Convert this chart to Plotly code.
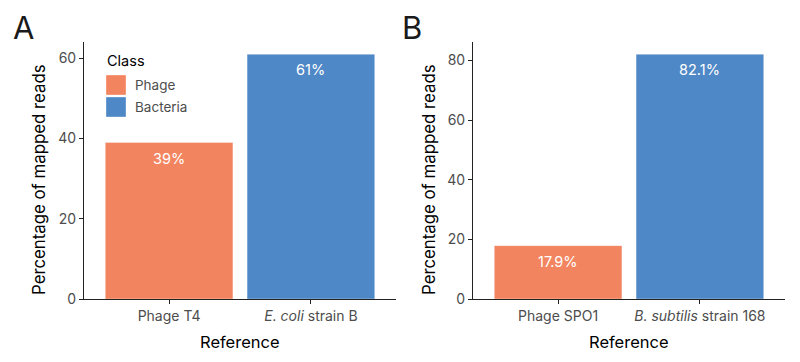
import plotly.graph_objects as go

# Data
cats_a = ["Phage T4", "<i>E. coli</i> strain B"]
vals_a = [39.0, 61.0]
labels_a = ["39%", "61%"]
cats_b = ["Phage SPO1", "<i>B. subtilis</i> strain 168"]
vals_b = [17.9, 82.1]
labels_b = ["17.9%", "82.1%"]
classes = ["Phage", "Bacteria"]
class_colors = {"Phage": "#F2845F", "Bacteria": "#4F88C6"}
ticks_a = [0, 20, 40, 60]
ticks_b = [0, 20, 40, 60, 80]

FONT = "Inter, Roboto, sans-serif"
W, H = 800, 362
def px(x): return x / W
def py(y): return 1 - y / H

fig = go.Figure()
for cats, vals, xa, ya in [(cats_a, vals_a, "x", "y"), (cats_b, vals_b, "x2", "y2")]:
    fig.add_trace(go.Bar(
        x=cats, y=vals, xaxis=xa, yaxis=ya,
        marker=dict(color=[class_colors[c] for c in classes],
                    line=dict(color="rgba(255,255,255,0.35)", width=1)),
        width=0.9, showlegend=False, hoverinfo="x+y"))

annotations = []
for cats, vals, labs, xr, yr in [(cats_a, vals_a, labels_a, "x", "y"), (cats_b, vals_b, labels_b, "x2", "y2")]:
    for c, v, l in zip(cats, vals, labs):
        annotations.append(dict(x=c, y=v, xref=xr, yref=yr, text=l, showarrow=False,
                                yanchor="top", yshift=-5,
                                font=dict(family=FONT, size=14.5, color="white")))

# panel labels
annotations += [
    dict(x=px(11), y=py(7), xref="paper", yref="paper", text="A", showarrow=False,
         xanchor="left", yanchor="top", font=dict(family=FONT, size=31, color="#1a1a1a")),
    dict(x=px(400), y=py(7), xref="paper", yref="paper", text="B", showarrow=False,
         xanchor="left", yanchor="top", font=dict(family=FONT, size=31, color="#1a1a1a")),
]

# axis titles
for xc, yc in [(240, 39), (629, 429)]:
    annotations.append(dict(x=px(xc), y=py(342), xref="paper", yref="paper", text="Reference",
                            showarrow=False, xanchor="center", yanchor="middle",
                            font=dict(family=FONT, size=16.5, color="black")))
    annotations.append(dict(x=px(yc), y=py(180), xref="paper", yref="paper",
                            text="Percentage of mapped reads", textangle=-90,
                            showarrow=False, xanchor="center", yanchor="middle",
                            font=dict(family=FONT, size=16.8, color="black")))

# manual legend (inside panel A)
annotations.append(dict(x=px(105), y=py(61), xref="paper", yref="paper", text="Class",
                        showarrow=False, xanchor="left", yanchor="middle",
                        font=dict(family=FONT, size=14.5, color="black")))
shapes = []
for i, c in enumerate(classes):
    y0 = 75 + i * 22
    shapes.append(dict(type="rect", xref="paper", yref="paper",
                       x0=px(106), x1=px(126), y0=py(y0 + 20), y1=py(y0),
                       fillcolor=class_colors[c], line=dict(color="rgba(255,255,255,0.35)", width=1)))
    annotations.append(dict(x=px(133), y=py(y0 + 10), xref="paper", yref="paper", text=c,
                            showarrow=False, xanchor="left", yanchor="middle",
                            font=dict(family=FONT, size=13.5, color="#4D4D4D")))

axis_common = dict(showline=True, linecolor="#222", linewidth=1, ticks="outside",
                   ticklen=4, tickcolor="#222", showgrid=False, zeroline=False,
                   automargin=False,
                   tickfont=dict(family=FONT, size=14, color="#4D4D4D"))

fig.update_layout(
    width=W, height=H, margin=dict(l=0, r=0, t=0, b=0),
    plot_bgcolor="white", paper_bgcolor="white",
    font=dict(family=FONT),
    xaxis=dict(domain=[px(84), px(396)], range=[-0.6, 1.6], anchor="y", **axis_common),
    yaxis=dict(domain=[py(299), py(42)], range=[0, 64.05], anchor="x",
               tickvals=ticks_a, **axis_common),
    xaxis2=dict(domain=[px(473), px(785)], range=[-0.6, 1.6], anchor="y2", **axis_common),
    yaxis2=dict(domain=[py(299), py(42)], range=[0, 86.2], anchor="x2",
                tickvals=ticks_b, **axis_common),
    annotations=annotations, shapes=shapes,
)

fig.write_html("out.html", config={"displayModeBar": False},
               post_script="document.body.style.margin='0';")
